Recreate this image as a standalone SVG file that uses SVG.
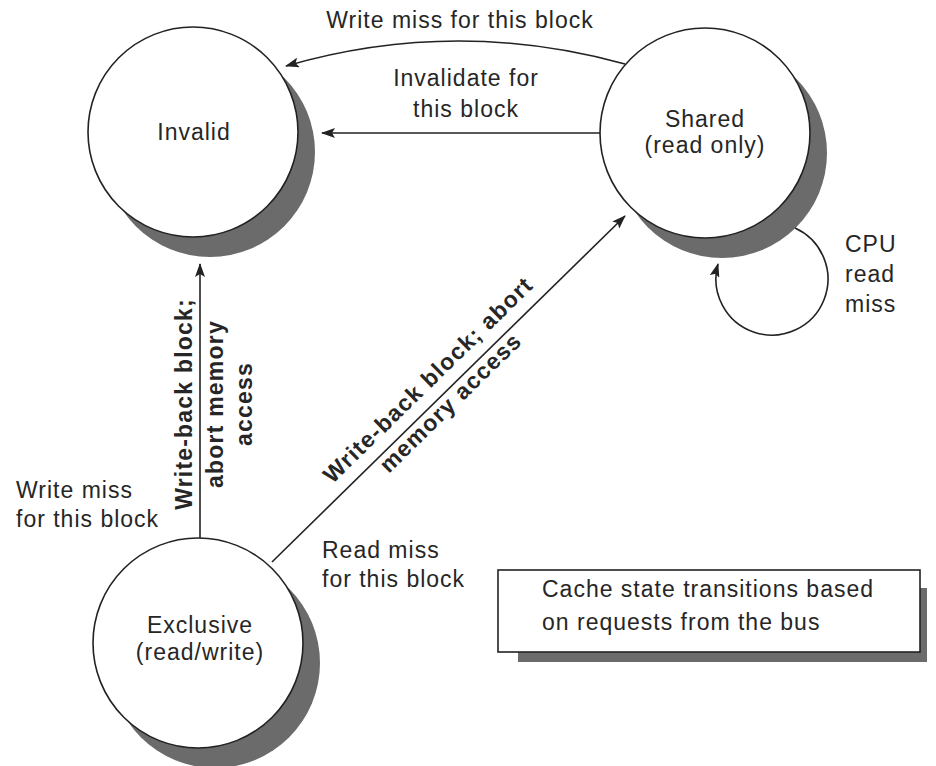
<svg xmlns="http://www.w3.org/2000/svg" width="936" height="766" viewBox="0 0 936 766">
<style>
text{font-family:"Liberation Sans",Arial,sans-serif;font-size:23px;fill:#262626;letter-spacing:1px}
.b{font-weight:bold;letter-spacing:1.2px}
.m{text-anchor:middle}
.sh{fill:#6b6b6b;stroke:none}
.st{fill:#fff;stroke:#222;stroke-width:1.6}
.ln{fill:none;stroke:#222;stroke-width:1.6}
</style>
<defs>
<marker id="ah" markerUnits="userSpaceOnUse" markerWidth="14" markerHeight="10" refX="13" refY="5" orient="auto">
<path d="M0,0 L14,5 L0,10 L3,5 Z" fill="#222"/>
</marker>
</defs>
<rect width="936" height="766" fill="#fff"/>
<g id="invalid">
<circle class="sh" cx="210" cy="152" r="105"/>
<circle class="st" cx="193" cy="132" r="105"/>
<text class="m" x="194" y="140">Invalid</text>
</g>
<g id="shared">
<circle class="sh" cx="722" cy="153" r="105"/>
<circle class="st" cx="705" cy="133" r="105"/>
<text class="m" x="705" y="127">Shared</text>
<text class="m" x="705" y="153">(read only)</text>
</g>
<g id="exclusive">
<circle class="sh" cx="215" cy="663" r="105"/>
<circle class="st" cx="198" cy="643" r="105"/>
<text class="m" x="200" y="633">Exclusive</text>
<text class="m" x="200" y="660">(read/write)</text>
</g>
<g id="legend">
<rect class="sh" x="518" y="588" width="409" height="74"/>
<rect class="st" x="498" y="570" width="422" height="82"/>
<text x="542" y="597">Cache state transitions based</text>
<text x="542" y="630">on requests from the bus</text>
</g>
<g id="connectors">
<path class="ln" d="M625,64 Q455,17 286,66" marker-end="url(#ah)"/>
<line class="ln" x1="600" y1="133" x2="322" y2="133" marker-end="url(#ah)"/>
<line class="ln" x1="200" y1="538" x2="200" y2="264" marker-end="url(#ah)"/>
<line class="ln" x1="272" y1="562" x2="625" y2="216" marker-end="url(#ah)"/>
<path class="ln" d="M795,228 A56,56 0 1 1 718,264" marker-end="url(#ah)"/>
</g>
<g id="labels">
<text class="m" x="460" y="28">Write miss for this block</text>
<text class="m" x="466" y="86">Invalidate for</text>
<text class="m" x="466" y="117">this block</text>
<text x="845" y="252">CPU</text>
<text x="845" y="282">read</text>
<text x="845" y="312">miss</text>
<text x="16" y="498">Write miss</text>
<text x="16" y="527">for this block</text>
<text x="322" y="558">Read miss</text>
<text x="322" y="587">for this block</text>
<g transform="translate(0,404) rotate(-90)">
<text class="b m" x="0" y="192">Write-back block;</text>
<text class="b m" x="0" y="223">abort memory</text>
<text class="b m" x="0" y="252">access</text>
</g>
<g transform="translate(442.6,394.7) rotate(-44.4)">
<text class="b m" x="0" y="-13">Write-back block; abort</text>
<text class="b m" x="0" y="19">memory access</text>
</g>
</g>
</svg>
